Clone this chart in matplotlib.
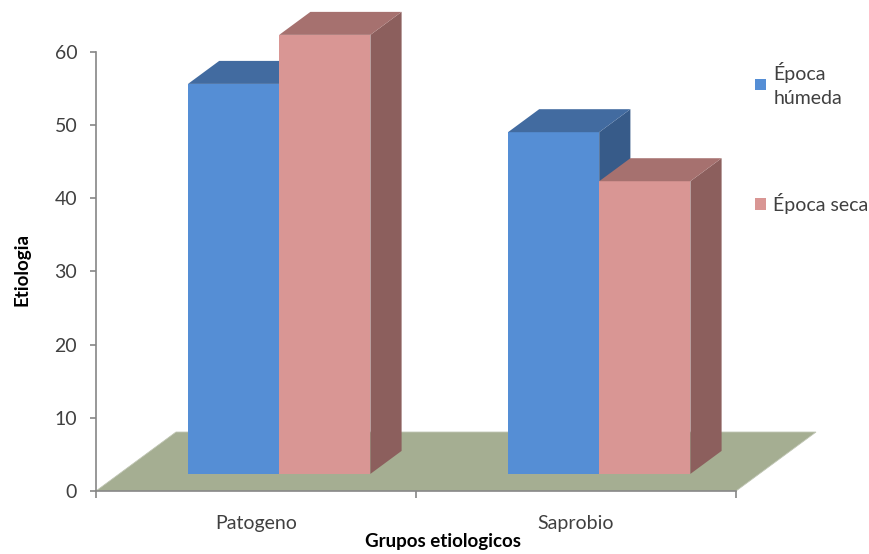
import matplotlib
matplotlib.use("Agg")
import matplotlib.pyplot as plt
from matplotlib.patches import Polygon

# datos
grupos = ["Patogeno", "Saprobio"]
epoca_humeda = [53.3, 46.7]
epoca_seca = [60.0, 40.0]
series = ["Época\nhúmeda", "Época seca"]

plt.rcParams['font.family'] = ['Lato', 'DejaVu Sans']

# colores (frente, arriba, lado)
azul = ("#558ED5", "#426BA0", "#375B89")
rosa = ("#D99694", "#A6716F", "#8C5F5D")
suelo = "#A5AE92"
gris = "#868686"

# profundidad "3D" en unidades de datos
DX, DY = 0.25, 8.06
t0, t1 = 0.29, 0.68
ancho = 0.285

fig = plt.figure(figsize=(8.7, 5.54), dpi=100)
ax = fig.add_axes([96 / 870, 63 / 554, 768 / 870, 491 / 554])
ax.set_xlim(0, 2.4)
ax.set_ylim(0, 491 / 7.317)
ax.patch.set_alpha(0)

# suelo
ax.add_patch(Polygon([(0, 0), (2, 0), (2 + DX, DY), (DX, DY)],
                     closed=True, facecolor=suelo, edgecolor="#BFC5B3", lw=0.6, zorder=1))


def barra3d(xl, v, cols):
    ox0, oy0 = DX * t0, DY * t0
    ox1, oy1 = DX * t1, DY * t1
    # lado
    ax.add_patch(Polygon([(xl + ancho + ox0, oy0), (xl + ancho + ox1, oy1),
                          (xl + ancho + ox1, oy1 + v), (xl + ancho + ox0, oy0 + v)],
                         closed=True, facecolor=cols[2], edgecolor="none", zorder=2))
    # frente
    b = ax.bar(xl + ox0, v, width=ancho, bottom=oy0, align="edge",
               color=cols[0], edgecolor="none", zorder=2)
    # arriba
    ax.add_patch(Polygon([(xl + ox0, oy0 + v), (xl + ancho + ox0, oy0 + v),
                          (xl + ancho + ox1, oy1 + v), (xl + ox1, oy1 + v)],
                         closed=True, facecolor=cols[1], edgecolor="none", zorder=2))
    return b


handles = []
for i in range(len(grupos)):
    centro = i + 0.5
    h1 = barra3d(centro - ancho, epoca_humeda[i], azul)
    h2 = barra3d(centro, epoca_seca[i], rosa)
    if i == 0:
        handles = [h1, h2]

# ejes
for s in ["top", "right"]:
    ax.spines[s].set_visible(False)
ax.spines["left"].set_bounds(0, 60)
ax.spines["bottom"].set_bounds(0, 2)
for s in ["left", "bottom"]:
    ax.spines[s].set_color(gris)
    ax.spines[s].set_linewidth(1.2)
    ax.spines[s].set_zorder(3)

ax.set_yticks(range(0, 61, 10))
ax.tick_params(axis="y", direction="out", length=4.5, width=1.2, color=gris,
               labelsize=14, labelcolor="#404040", pad=9)
ax.set_xticks([0, 1, 2])
ax.set_xticklabels([])
ax.set_xticks([0.5, 1.5], minor=True)
ax.set_xticklabels(grupos, minor=True)
ax.tick_params(axis="x", which="major", direction="out", length=5, width=1.2, color=gris)
ax.tick_params(axis="x", which="minor", length=0, labelsize=14, labelcolor="#404040", pad=17)

fig.text(443 / 870, 1 - 541 / 554, "Grupos etiologicos", ha="center", va="center",
         fontsize=13.5, fontweight="bold", color="black")
fig.text(22 / 870, 1 - 270 / 554, "Etiologia", ha="center", va="center", rotation=90,
         fontsize=13.5, fontweight="bold", color="black")

leg = ax.legend(handles, series, loc="upper left", bbox_to_anchor=(755 / 870, 1 - 62 / 554),
                bbox_transform=fig.transFigure, frameon=False, fontsize=14,
                handlelength=0.55, handleheight=0.55, handletextpad=0.4,
                labelspacing=4.4, borderpad=0, borderaxespad=0, labelcolor="#404040")
for t in leg.get_texts():
    t.set_linespacing(1.5)

fig.savefig("out.png", dpi=100)
